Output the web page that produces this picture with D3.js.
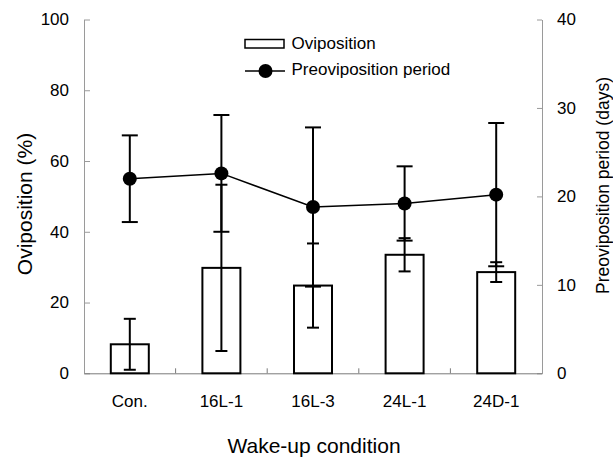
<!DOCTYPE html>
<html>
<head>
<meta charset="utf-8">
<script src="https://cdn.jsdelivr.net/npm/d3@7"></script>
<style>
  body { margin: 0; background: #fff; }
  text { font-family: "Liberation Sans", Arial, sans-serif; fill: #000; }
</style>
</head>
<body>
<div id="chart"></div>
<script>
const conditions = ["Con.", "16L-1", "16L-3", "24L-1", "24D-1"];
const oviposition = [8.2, 29.8, 24.8, 33.5, 28.6];      // %
const ovipositionErr = [7.2, 23.5, 11.9, 4.7, 2.8];
const preoviposition = [22.0, 22.6, 18.8, 19.2, 20.2];  // days
const preovipositionErr = [4.9, 6.6, 9.0, 4.2, 8.1];
const leftTicks = [0, 20, 40, 60, 80, 100];
const rightTicks = [0, 10, 20, 30, 40];

const width = 613;
const height = 461;
const margin = { top: 19.5, right: 71, bottom: 88, left: 84 };

const svg = d3
  .select("#chart")
  .append("svg")
  .attr("width", width)
  .attr("height", height);

const x = d3
  .scaleBand()
  .domain(conditions)
  .range([margin.left, width - margin.right]);

const yLeft = d3
  .scaleLinear()
  .domain([0, 100])
  .range([height - margin.bottom + 0.3, margin.top]);

const yRight = d3
  .scaleLinear()
  .domain([0, 40])
  .range([height - margin.bottom + 0.3, margin.top]);

const barWidth = 38;
const rows = conditions.map((c, i) => ({
  c,
  ovi: oviposition[i],
  oviErr: ovipositionErr[i],
  pre: preoviposition[i],
  preErr: preovipositionErr[i],
  cx: x(c) + x.bandwidth() / 2,
}));

// --- axes ---
const leftAxis = svg
  .append("g")
  .attr("transform", `translate(${margin.left},0)`)
  .call(d3.axisLeft(yLeft).tickValues(leftTicks).tickSizeInner(-6).tickSizeOuter(0).tickPadding(15));

const rightAxis = svg
  .append("g")
  .attr("transform", `translate(${width - margin.right},0)`)
  .call(d3.axisRight(yRight).tickValues(rightTicks).tickSizeInner(-5).tickSizeOuter(0).tickPadding(15));

[leftAxis, rightAxis].forEach((g) => {
  g.selectAll("path, line").attr("stroke", "#9a9a9a").attr("stroke-width", 1);
  g.selectAll("text")
    .attr("font-size", 17)
    .attr("font-family", "Liberation Sans, Arial, sans-serif")
    .attr("fill", "#000");
});

const bottomAxis = svg
  .append("g")
  .attr("transform", `translate(0,${yLeft(0)})`)
  .call(d3.axisBottom(x).tickSize(0).tickPadding(22));
bottomAxis.select(".domain").attr("stroke", "#7a7a7a").attr("stroke-width", 1);
bottomAxis
  .selectAll("text")
  .attr("font-size", 17)
  .attr("font-family", "Liberation Sans, Arial, sans-serif")
  .attr("fill", "#000");

// separator ticks between categories
svg
  .append("g")
  .selectAll("line")
  .data(conditions.slice(1))
  .enter()
  .append("line")
  .attr("x1", (d) => x(d))
  .attr("x2", (d) => x(d))
  .attr("y1", yLeft(0))
  .attr("y2", yLeft(0) - 5)
  .attr("stroke", "#7a7a7a");

// --- bars ---
svg
  .append("g")
  .selectAll("rect")
  .data(rows)
  .enter()
  .append("rect")
  .attr("x", (d) => d.cx - barWidth / 2)
  .attr("width", barWidth)
  .attr("y", (d) => yLeft(d.ovi))
  .attr("height", (d) => yLeft(0) - yLeft(d.ovi))
  .attr("fill", "#fff")
  .attr("stroke", "#000")
  .attr("stroke-width", 2);

function errorBars(data, scale, val, err, capHalf) {
  const g = svg.append("g").attr("stroke", "#000").attr("stroke-width", 2);
  g.selectAll(".v")
    .data(data)
    .enter()
    .append("line")
    .attr("x1", (d) => d.cx)
    .attr("x2", (d) => d.cx)
    .attr("y1", (d) => scale(d[val] - d[err]))
    .attr("y2", (d) => scale(d[val] + d[err]));
  [-1, 1].forEach((s) => {
    g.selectAll(".c" + s)
      .data(data)
      .enter()
      .append("line")
      .attr("x1", (d) => d.cx - capHalf)
      .attr("x2", (d) => d.cx + capHalf)
      .attr("y1", (d) => scale(d[val] + s * d[err]))
      .attr("y2", (d) => scale(d[val] + s * d[err]));
  });
}

errorBars(rows, yLeft, "ovi", "oviErr", 6);

// --- preoviposition line ---
const line = d3
  .line()
  .x((d) => d.cx)
  .y((d) => yRight(d.pre));

svg
  .append("path")
  .datum(rows)
  .attr("d", line)
  .attr("fill", "none")
  .attr("stroke", "#000")
  .attr("stroke-width", 1.5);

errorBars(rows, yRight, "pre", "preErr", 8);

svg
  .append("g")
  .selectAll("circle")
  .data(rows)
  .enter()
  .append("circle")
  .attr("cx", (d) => d.cx)
  .attr("cy", (d) => yRight(d.pre))
  .attr("r", 7)
  .attr("fill", "#000");

// --- axis titles ---
svg
  .append("text")
  .attr("x", 314)
  .attr("y", 453)
  .attr("text-anchor", "middle")
  .attr("font-size", 21)
  .text("Wake-up condition");

svg
  .append("text")
  .attr("transform", "translate(32,204) rotate(-90)")
  .attr("text-anchor", "middle")
  .attr("font-size", 21)
  .text("Oviposition (%)");

svg
  .append("text")
  .attr("transform", "translate(609,185.5) rotate(-90)")
  .attr("text-anchor", "middle")
  .attr("font-size", 17.5)
  .text("Preoviposition period (days)");

// --- legend ---
const legend = svg.append("g");
legend
  .append("rect")
  .attr("x", 245)
  .attr("y", 39.5)
  .attr("width", 39)
  .attr("height", 8.5)
  .attr("fill", "#fff")
  .attr("stroke", "#000")
  .attr("stroke-width", 1.5);
legend
  .append("text")
  .attr("x", 291.5)
  .attr("y", 48.5)
  .attr("font-size", 17)
  .text("Oviposition");
legend
  .append("line")
  .attr("x1", 245)
  .attr("x2", 285)
  .attr("y1", 71)
  .attr("y2", 71)
  .attr("stroke", "#000")
  .attr("stroke-width", 1.5);
legend
  .append("circle")
  .attr("cx", 265.5)
  .attr("cy", 71)
  .attr("r", 7)
  .attr("fill", "#000");
legend
  .append("text")
  .attr("x", 291.5)
  .attr("y", 75)
  .attr("font-size", 17)
  .text("Preoviposition period");
</script>
</body>
</html>
